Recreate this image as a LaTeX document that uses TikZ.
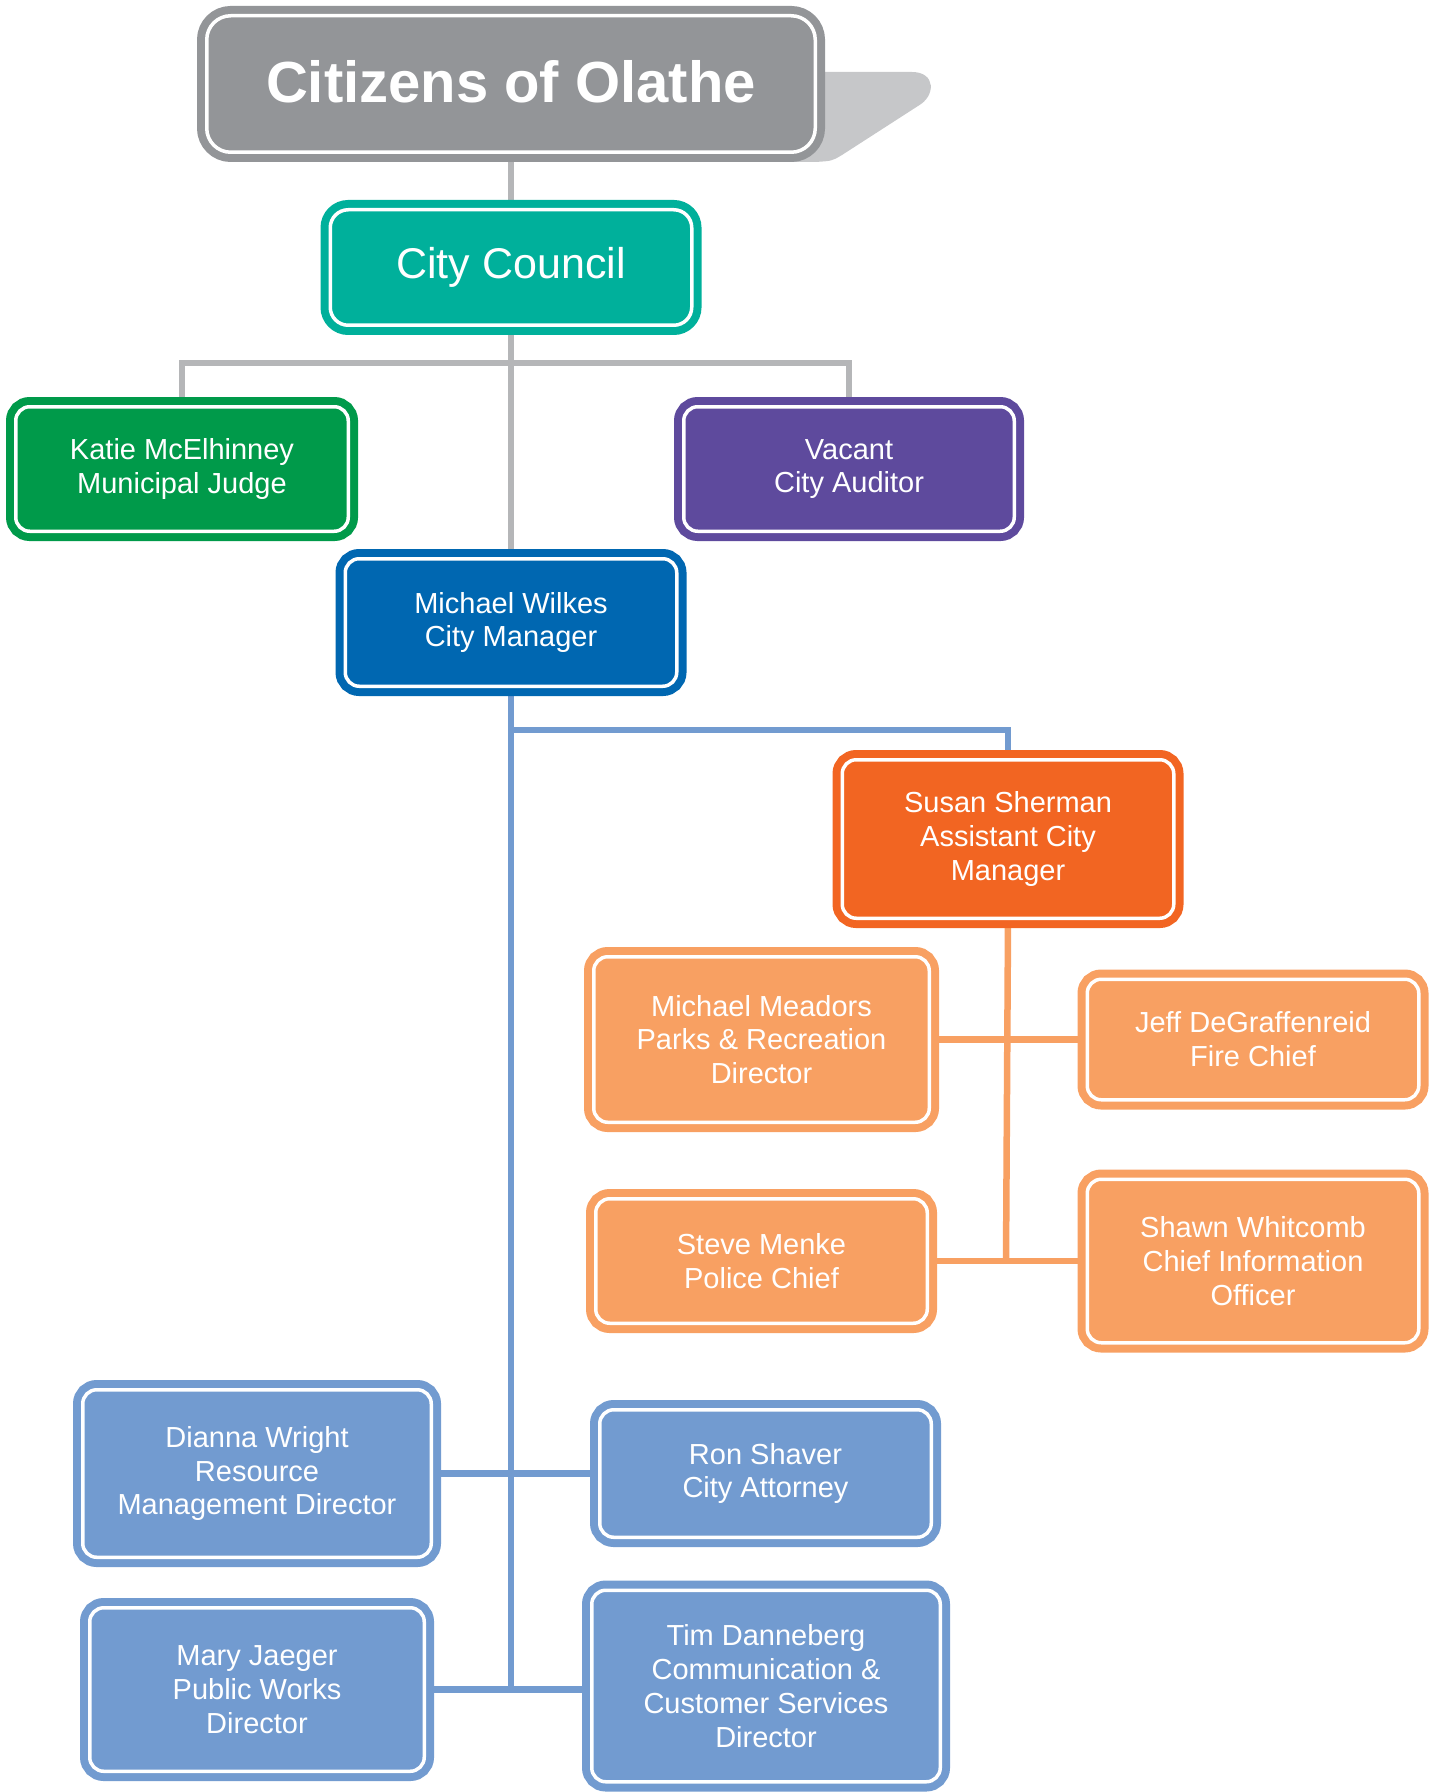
\documentclass[tikz,border=0pt]{standalone}
\usepackage{fontspec}
\setmainfont{Liberation Sans}
\usetikzlibrary{backgrounds}

\newcommand{\scaler}{0.5}
\newcommand{\bodyfont}{\fontsize{14.5}{16.9}\selectfont}

\definecolor{citygray}{HTML}{939598}
\definecolor{shadowgray}{HTML}{C6C7C9}
\definecolor{linegray}{HTML}{B5B6B8}
\definecolor{councilteal}{HTML}{00B09B}
\definecolor{judgegreen}{HTML}{009A4A}
\definecolor{auditpurple}{HTML}{5E4A9D}
\definecolor{managerblue}{HTML}{0067B1}
\definecolor{assistorange}{HTML}{F26522}
\definecolor{deptorange}{HTML}{F8A062}
\definecolor{deptblue}{HTML}{729BD0}

\tikzset{
  orgbox/.style={draw=#1, fill=#1, double=white, line width=4pt,
    double distance=1.75pt, rounded corners=7pt, inner sep=0pt,
    align=center, text=white, font=\bodyfont},
  boxsize/.style 2 args={minimum width=#1pt*\scaler, minimum height=#2pt*\scaler},
  link/.style={line width=3.25pt, draw=#1},
}

\begin{document}
\begin{tikzpicture}[x=\scaler pt, y=-\scaler pt]
  \useasboundingbox (0,0) rectangle (1437,1792);

  % top of the chart
  \node [orgbox=citygray, boxsize={608.5}{136.5}, rounded corners=12pt,
    font=\fontsize{29}{34}\selectfont\bfseries] (citizens) at (511,84) {\raisebox{3pt}{Citizens of Olathe}};
  \node [orgbox=councilteal, boxsize={361.5}{115.5}, rounded corners=9pt,
    font=\fontsize{21.5}{26}\selectfont] (council) at (511,267.5) {\raisebox{1pt}{City Council}};

  \node [orgbox=judgegreen, boxsize={332.5}{124.5}] (judge) at (182,469) {Katie McElhinney\\Municipal Judge};
  \node [orgbox=auditpurple, boxsize={330.5}{124.5}] (auditor) at (849,469) {Vacant\\City Auditor};
  \node [orgbox=managerblue, boxsize={331.5}{127.5}] (manager) at (511,622.5) {Michael Wilkes\\City Manager};

  % assistant city manager and departments
  \node [orgbox=assistorange, boxsize={331.5}{158.5}] (assistant) at (1008,839) {Susan Sherman\\Assistant City\\Manager};
  \node [orgbox=deptorange, boxsize={335.5}{165.5}] (parks) at (761.5,1039.5) {Michael Meadors\\Parks \& Recreation\\Director};
  \node [orgbox=deptorange, boxsize={331.5}{120.5}] (fire) at (1253,1039.5) {Jeff DeGraffenreid\\Fire Chief};
  \node [orgbox=deptorange, boxsize={331.5}{124.5}] (police) at (761.5,1261) {Steve Menke\\Police Chief};
  \node [orgbox=deptorange, boxsize={331.5}{163.5}] (info) at (1253,1261) {Shawn Whitcomb\\Chief Information\\Officer};

  % departments under the city manager
  \node [orgbox=deptblue, boxsize={348.5}{167.5}] (resource) at (257,1473.5) {Dianna Wright\\Resource\\Management Director};
  \node [orgbox=deptblue, boxsize={331.5}{127.5}] (attorney) at (765.5,1473.5) {Ron Shaver\\City Attorney};
  \node [orgbox=deptblue, boxsize={334.5}{163.5}] (works) at (257,1689.5) {Mary Jaeger\\Public Works\\Director};
  \node [orgbox=deptblue, boxsize={348.5}{191.5}] (comm) at (766,1686) {Tim Danneberg\\Communication \&\\Customer Services\\Director};

  \coordinate (councilbar) at (511,363);
  \coordinate (managerbar) at (511,730);
  \coordinate (managerend) at (511,1689.5);
  \coordinate (assistend) at (1006,1261);

  \begin{scope}[on background layer]
    \fill [shadowgray] (790,72) -- (912,72) .. controls (936,72) and (936,96) .. (918,106)
      -- (842,155) .. controls (832,161) .. (815,162) -- (790,162) -- cycle;

    \draw [link=linegray] (citizens.south) -- (council.north);
    \draw [link=linegray] (council.south) -- (manager.north);
    \draw [link=linegray] (judge.north) |- (councilbar) -| (auditor.north);

    \draw [link=deptblue] (manager.south) -- (managerend);
    \draw [link=deptblue] (managerbar) -| (assistant.north);
    \draw [link=deptblue] (resource.east) -- (attorney.west);
    \draw [link=deptblue] (works.east) -- (works.east -| comm.west);

    \draw [link=deptorange] (assistant.south) -- (assistend);
    \draw [link=deptorange] (parks.east) -- (fire.west);
    \draw [link=deptorange] (police.east) -- (info.west);
  \end{scope}
\end{tikzpicture}
\end{document}
